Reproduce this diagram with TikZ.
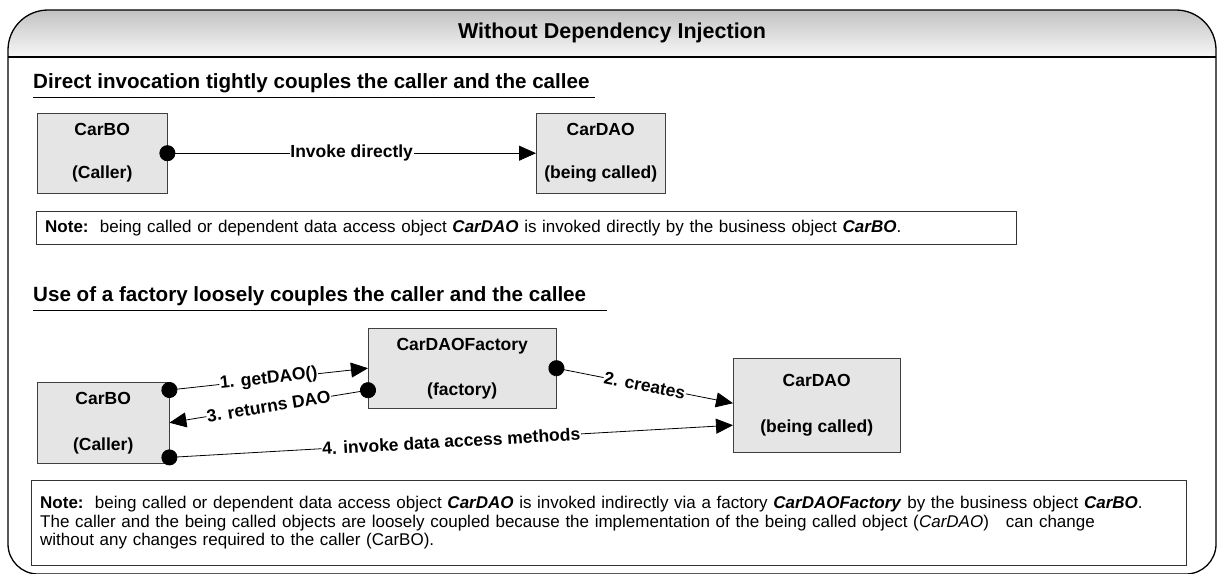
\documentclass[tikz,border=0pt]{standalone}
\usepackage{fontspec}
\setmainfont{Liberation Sans}
\usetikzlibrary{arrows.meta,positioning,calc}
\newcommand{\titlefont}{\bfseries\fontsize{21.5}{25}\selectfont}
\newcommand{\sectfont}{\bfseries\fontsize{20.6}{24}\selectfont}
\newcommand{\objfont}{\bfseries\fontsize{17.5}{21}\selectfont}
\newcommand{\notefont}{\fontsize{17}{18.4}\selectfont}

\begin{document}
\begin{tikzpicture}[
  x=1pt,y=-1pt,
  obj/.style={draw=black!75,fill=black!10,align=center,inner sep=0pt,anchor=north west,font=\objfont},
  lbl/.style={fill=white,inner sep=0.6pt,sloped,font=\objfont},
  link/.style={{Circle[length=16pt]}-{Triangle[length=17pt,width=15pt]},shorten <=-8pt,line width=0.8pt},
  note/.style={draw=black!80,anchor=north west,align=left,inner xsep=9pt,inner ysep=0pt,font=\notefont},
  sect/.style={anchor=base west,inner sep=0pt,font=\sectfont},
  rule/.style={line width=0.9pt}
]
\useasboundingbox (0,0) rectangle (1217,573);
\begin{scope}
\clip (0,0) rectangle (1217,573);
\begin{scope}
\clip[rounded corners=40pt] (8,300) -- (8,10) -- (1216,10) -- (1216,300) -- cycle;
\shade[top color=black!24,bottom color=black!3] (8,10) rectangle (1216,57);
\end{scope}
\draw[line width=1.3pt,rounded corners=40pt] (8,300) -- (8,10) -- (1216,10) -- (1216,300);
\draw[line width=1.3pt,rounded corners=30pt] (1216,300) -- (1216,574) -- (8,574) -- (8,300);
\end{scope}
\draw[line width=1.8pt] (8,57) -- (1216,57);
\node[font=\titlefont] (title) at (612,33) {Without Dependency Injection};

\node[sect] (headA) at (33,88) {Direct invocation tightly couples the caller and the callee};
\draw[rule] ([yshift=-9pt]headA.base west) -- ++(562,0);
\node[obj,minimum width=130pt,minimum height=80pt] (carboA) at (37,113) {CarBO\\[22pt](Caller)};
\node[obj,minimum width=129pt,minimum height=80pt] (cardaoA) at (536,113) {CarDAO\\[22pt](being called)};
\draw[link] (carboA.east) -- node[lbl]{Invoke directly} (cardaoA.west);
\node[note,text width=962pt,minimum height=33pt] (noteA) at (36,211) {\textbf{Note:}\ \ being called or dependent data access object \textbf{\textit{CarDAO}} is invoked directly by the business object \textbf{\textit{CarBO}}.};

\node[sect] (headB) at (33,301) {Use of a factory loosely couples the caller and the callee};
\draw[rule] ([yshift=-9pt]headB.base west) -- ++(574,0);
\node[obj,minimum width=188pt,minimum height=80pt] (factory) at (368,328) {CarDAOFactory\\[24pt](factory)};
\node[obj,minimum width=132pt,minimum height=81pt] (carboB) at (37,382) {CarBO\\[25pt](Caller)};
\node[obj,minimum width=167pt,minimum height=94pt] (cardaoB) at (733,358) {CarDAO\\[25pt](being called)};
\draw[link] ([yshift=-8pt]carboB.north east) -- node[lbl]{1. getDAO()} (factory.west);
\draw[link] ([yshift=-22pt]factory.west) -- node[lbl]{3. returns DAO} (carboB.east);
\draw[link] (factory.east) -- node[lbl]{2. creates} ([yshift=2pt]cardaoB.west);
\draw[link] ([yshift=6pt]carboB.south east) -- node[lbl]{4. invoke data access methods} ([yshift=-20pt]cardaoB.west);
\node[note,text width=1137pt,minimum height=85pt] (noteB) at (31,480) {\textbf{Note:}\ \ being called or dependent data access object \textbf{\textit{CarDAO}} is invoked indirectly via a factory \textbf{\textit{CarDAOFactory}} by the business object \textbf{\textit{CarBO}}.\\
The caller and the being called objects are loosely coupled because the implementation of the being called object (\textit{CarDAO})\ \ \ can change\\
without any changes required to the caller (CarBO).};
\end{tikzpicture}
\end{document}
